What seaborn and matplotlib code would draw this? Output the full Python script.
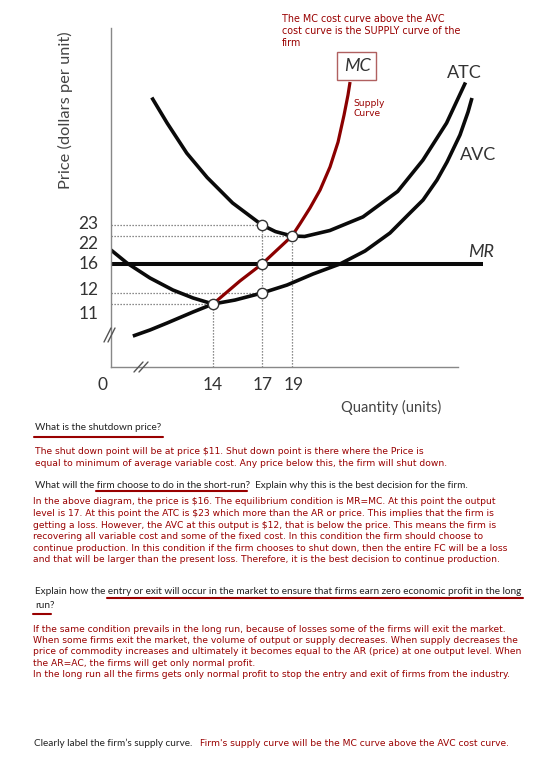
import numpy as np
import matplotlib
matplotlib.use("Agg")
import matplotlib.pyplot as plt
import seaborn as sns
from matplotlib.transforms import ScaledTranslation
from matplotlib.lines import Line2D
from matplotlib.patches import Rectangle

# ---------------- data (quantity in units, price in dollars) ----------------
atc_q = [5.6, 7.7, 10.4, 13.2, 15.2, 17.0, 17.9, 19.0, 19.8, 21.4, 23.5, 25.0, 25.7, 27.3, 28.8, 30.0]
atc_p = [34.0, 31.8, 29.2, 27.1, 24.9, 23.0, 22.4, 22.0, 21.9, 22.5, 23.7, 25.2, 25.9, 28.6, 31.8, 35.3]

avc_q = [0.0, 2.2, 5.35, 8.5, 11.25, 14.0, 15.35, 17.0, 18.67, 20.33, 22.04, 23.63,
         25.21, 26.48, 27.31, 28.19, 28.83, 29.65, 30.16, 30.41]
avc_p = [19.0, 16.2, 14.07, 12.41, 11.55, 11.0, 11.36, 12.0, 13.1, 14.62, 16.0, 18.79,
         22.27, 24.04, 25.16, 26.88, 28.44, 30.77, 32.75, 33.96]

mc_low_q = [3.0, 5.35, 7.7, 11.25, 14.0]
mc_low_p = [5.4, 6.46, 7.68, 9.6, 11.0]

mc_supply_q = [14.0, 15.65, 17.0, 18.0, 19.0, 19.5, 20.14, 20.78, 21.41, 21.92, 22.30, 22.55, 22.68]
mc_supply_p = [11.0, 13.66, 16.0, 19.0, 22.0, 23.09, 24.47, 26.02, 28.01, 30.16, 32.49, 34.22, 35.34]

mr_q = [0.0, 31.1]
mr_p = [16.0, 16.0]

point_q = [14, 17, 17, 17, 19]
point_p = [11, 12, 16, 23, 22]

guide_h_p = [23, 22, 12, 11]
guide_h_q = [17, 19, 17, 14]
guide_v_q = [14, 17, 19]
guide_v_p = [11, 23, 22]

price_ticks = [11, 12, 16, 22, 23]
price_tick_labels = ["11", "12", "16", "22", "23"]
qty_ticks = [0, 14, 17, 19]
qty_tick_labels = ["0", "14", "17", "19"]

# ---------------- texts ----------------
note_top = ["The MC cost curve above the AVC",
            "cost curve is the SUPPLY curve of the",
            "firm"]
q1 = "What is the shutdown price?"
a1 = ["The shut down point will be at price $11. Shut down point is there where the Price is",
      "equal to minimum of average variable cost. Any price below this, the firm will shut down."]
q2 = "What will the firm choose to do in the short-run?  Explain why this is the best decision for the firm."
a2 = ["In the above diagram, the price is $16. The equilibrium condition is MR=MC. At this point the output",
      "level is 17. At this point the ATC is $23 which more than the AR or price. This implies that the firm is",
      "getting a loss. However, the AVC at this output is $12, that is below the price. This means the firm is",
      "recovering all variable cost and some of the fixed cost. In this condition the firm should choose to",
      "continue production. In this condition if the firm chooses to shut down, then the entire FC will be a loss",
      "and that will be larger than the present loss. Therefore, it is the best decision to continue production."]
q3 = ["Explain how the entry or exit will occur in the market to ensure that firms earn zero economic profit in the long",
      "run?"]
a3 = ["If the same condition prevails in the long run, because of losses some of the firms will exit the market.",
      "When some firms exit the market, the volume of output or supply decreases. When supply decreases the",
      "price of commodity increases and ultimately it becomes equal to the AR (price) at one output level. When",
      "the AR=AC, the firms will get only normal profit.",
      "In the long run all the firms gets only normal profit to stop the entry and exit of firms from the industry."]
q4 = "Clearly label the firm\u2019s supply curve."
a4 = "Firm's supply curve will be the MC curve above the AVC cost curve."

# ---------------- style ----------------
W, H, DPI = 560, 765, 100
RED = "#990000"
TXT = "#222222"
sns.set_theme(style="white")
plt.rcParams["font.family"] = ["Lato", "DejaVu Sans"]

fig = plt.figure(figsize=(W / DPI, H / DPI), dpi=DPI)
fig.patch.set_facecolor("white")

AX_L, AX_R, AX_B, AX_T = 111, 495, 367, 28
ax = fig.add_axes([AX_L / W, 1 - AX_B / H, (AX_R - AX_L) / W, (AX_B - AX_T) / H])
ax.set_facecolor("white")


def fx(px):
    return px / W


def fy(py):
    return 1 - py / H


def piecewise(xk, yk):
    xk = np.asarray(xk, float)
    yk = np.asarray(yk, float)
    s0 = (yk[1] - yk[0]) / (xk[1] - xk[0])
    s1 = (yk[-1] - yk[-2]) / (xk[-1] - xk[-2])

    def f(v):
        v = np.asarray(v, float)
        out = np.interp(v, xk, yk)
        out = np.where(v < xk[0], yk[0] + (v - xk[0]) * s0, out)
        out = np.where(v > xk[-1], yk[-1] + (v - xk[-1]) * s1, out)
        return out
    return f


# schematic (broken) axes: piecewise-linear scales
Q_KNOTS = [0, 14, 17, 19, 31.87]
Q_PIX = [0, 102, 151, 181, 384]
P_KNOTS = [0, 11, 12, 16, 22, 23, 40]
P_PIX = [0, 63, 74, 103, 131, 142, 339]

# ---------------- marks ----------------
ax.hlines(guide_h_p, 0, guide_h_q, colors="#666666", linestyles=(0, (1, 1.4)), linewidth=0.9, zorder=1)
ax.vlines(guide_v_q, 0, guide_v_p, colors="#666666", linestyles=(0, (1, 1.4)), linewidth=0.9, zorder=1)

kw = dict(ax=ax, sort=False, estimator=None, legend=False, solid_capstyle="butt")
sns.lineplot(x=atc_q, y=atc_p, color="#0a0a0a", linewidth=2.6, zorder=2, **kw)
sns.lineplot(x=avc_q, y=avc_p, color="#0a0a0a", linewidth=2.6, zorder=2, **kw)
sns.lineplot(x=mc_low_q, y=mc_low_p, color="#0a0a0a", linewidth=2.6, zorder=2, **kw)
sns.lineplot(x=mr_q, y=mr_p, color="#0a0a0a", linewidth=2.9, zorder=2, **kw)
sns.lineplot(x=mc_supply_q, y=mc_supply_p, color="#8b0000", linewidth=2.3, zorder=3, **kw)
sns.scatterplot(x=point_q, y=point_p, ax=ax, s=55, color="white", edgecolor="#333333",
                linewidth=1.0, zorder=5, legend=False)

ax.set_xscale("function", functions=(piecewise(Q_KNOTS, Q_PIX), piecewise(Q_PIX, Q_KNOTS)))
ax.set_yscale("function", functions=(piecewise(P_KNOTS, P_PIX), piecewise(P_PIX, P_KNOTS)))
ax.set_xlim(0, 31.87)
ax.set_ylim(0, 40)

ax.set_xticks(qty_ticks)
ax.set_xticklabels(qty_tick_labels)
ax.set_yticks(price_ticks)
ax.set_yticklabels(price_tick_labels)
ax.minorticks_off()
ax.tick_params(axis="both", length=0, labelsize=12.5, labelcolor="#333333")
ax.tick_params(axis="x", pad=7)
ax.tick_params(axis="y", pad=9)

y_off = [-8, 5, 2, -6, 3]
for lab, d in zip(ax.get_yticklabels(), y_off):
    lab.set_transform(lab.get_transform() + ScaledTranslation(0, d / DPI, fig.dpi_scale_trans))
x_off = [-9, 0, 1, 2]
for lab, d in zip(ax.get_xticklabels(), x_off):
    lab.set_transform(lab.get_transform() + ScaledTranslation(d / DPI, 0, fig.dpi_scale_trans))

sns.despine(ax=ax)
for s in ("left", "bottom"):
    ax.spines[s].set_color("#888888")
    ax.spines[s].set_linewidth(1.0)
ax.spines["bottom"].set_bounds(0, 29.5)

ax.set_ylabel("Price (dollars per unit)", fontsize=11.8, color="#444444")
ax.yaxis.set_label_coords((65 - AX_L) / (AX_R - AX_L), (AX_B - 110) / (AX_B - AX_T))
ax.yaxis.label.set_verticalalignment("center")
ax.set_xlabel("Quantity (units)", fontsize=10.5, color="#444444")
ax.xaxis.set_label_coords((391 - AX_L) / (AX_R - AX_L), (AX_B - 407) / (AX_B - AX_T))
ax.xaxis.label.set_verticalalignment("center")

# axis break marks
for (x0, y0, x1, y1) in [(104, 342, 111, 328), (108, 342, 115, 328),
                         (134, 372, 143, 362), (139, 372, 148, 362)]:
    fig.add_artist(Line2D([fx(x0), fx(x1)], [fy(y0), fy(y1)], color="#555555", lw=1.0))

# curve labels
lab_kw = dict(fontsize=13, color="#333333", ha="center", va="center")
fig.text(fx(357), fy(66), "MC", style="italic", **lab_kw)
fig.add_artist(Rectangle((fx(337), fy(80)), (376 - 337) / W, (80 - 52) / H,
                         transform=fig.transFigure, fill=False, edgecolor="#b06060", lw=1.0))
fig.text(fx(464), fy(73), "ATC", **lab_kw)
fig.text(fx(478), fy(155), "AVC", **lab_kw)
fig.text(fx(481), fy(252), "MR", style="italic", **lab_kw)

red_kw = dict(fontsize=6.6, color=RED, family="DejaVu Sans", ha="left", va="center")
note_kw = dict(red_kw, fontsize=6.9)
for i, line in enumerate(note_top):
    fig.text(fx(282), fy(19 + 12 * i), line, **note_kw)
fig.text(fx(353), fy(103), "Supply", **red_kw)
fig.text(fx(353), fy(114), "Curve", **red_kw)

# ---------------- question / answer text ----------------
blk_kw = dict(fontsize=7.2, color=TXT, ha="left", va="center")


def uline(x0, x1, y):
    fig.add_artist(Line2D([fx(x0), fx(x1)], [fy(y), fy(y)], color=RED, lw=1.5))


fig.text(fx(35), fy(428), q1, **blk_kw)
uline(34, 163, 437)
for i, line in enumerate(a1):
    fig.text(fx(35), fy(452 + 11.5 * i), line, **red_kw)

fig.text(fx(35), fy(485), q2, **blk_kw)
uline(96, 247, 491)
for i, line in enumerate(a2):
    fig.text(fx(33), fy(502 + 11.6 * i), line, **red_kw)

fig.text(fx(35), fy(592), q3[0], **blk_kw)
fig.text(fx(35), fy(605), q3[1], **blk_kw)
uline(107, 523, 598)
uline(33, 51, 614)
for i, line in enumerate(a3):
    fig.text(fx(33), fy(629 + 11.4 * i), line, **red_kw)

fig.text(fx(34), fy(743), q4, **blk_kw)
fig.text(fx(200), fy(743), a4, **red_kw)

fig.savefig("out.png", dpi=DPI, facecolor="white")
